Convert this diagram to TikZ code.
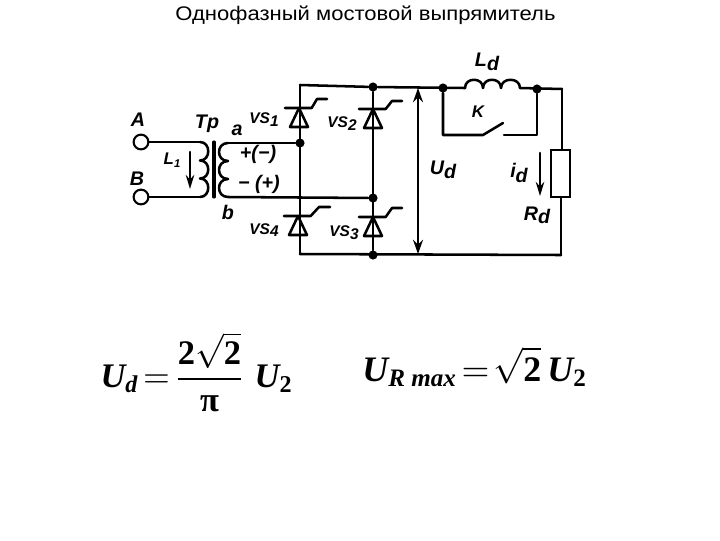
\documentclass[tikz,border=0pt]{standalone}
\usepackage{fontspec}
\setmainfont{Liberation Sans}
\newfontfamily\formfont{Liberation Serif}
\newcommand{\formU}{\mbox{\formfont\bfseries\itshape U}}
\newcommand{\formPi}{\mbox{\formfont\bfseries π}}
\newcommand{\formD}[1]{\mbox{\formfont\bfseries #1}}
\newcommand{\formS}[1]{\mbox{\scriptsize\formfont\bfseries #1}}
\newcommand{\formI}[1]{\mbox{\scriptsize\formfont\bfseries\itshape #1}}
\usetikzlibrary{arrows.meta}
\tikzset{
	wire/.style={line width=1.8pt, line cap=round, line join=round},
	dot/.style={circle, fill, inner sep=0pt, minimum size=6.5pt},
	term/.style={circle, draw, line width=1.5pt, fill=white, inner sep=0pt, minimum size=10.5pt},
	lab/.style={font=\bfseries\itshape\fontsize{11}{12}\selectfont, inner sep=0pt},
	sublab/.style={font=\bfseries\itshape\fontsize{14}{15}\selectfont, inner sep=0pt},
	volt/.style={wire, {Stealth[length=10pt,width=7pt]}-{Stealth[length=10pt,width=7pt]}},
	cur/.style={wire, -{Stealth[length=10pt,width=6pt]}}
}
\begin{document}
\begin{tikzpicture}[x=0.025cm, y=-0.025cm]
	\useasboundingbox (0,0) rectangle (720,540);
	\node[font=\fontsize{14}{16}\selectfont, xscale=1.12] (title) at (365.5,15) {Однофазный мостовой выпрямитель};

	% terminals and transformer
	\node[term] (A) at (141,142) {};
	\node[term] (B) at (141,197) {};
	\coordinate (p1) at (200,142);
	\coordinate (p2) at (200,160.5);
	\coordinate (p3) at (200,178.5);
	\coordinate (p4) at (200,197);
	\coordinate (s1) at (228,143);
	\coordinate (s2) at (228,161);
	\coordinate (s3) at (228,179);
	\coordinate (s4) at (228,197);
	\coordinate (coreT) at (214,142);
	\coordinate (coreB) at (214,197);
	\draw[wire] (A) -- (p1);
	\draw[wire] (B) -- (p4);
	\draw[wire] (p1) .. controls +(11,0) and +(11,0) .. (p2);
	\draw[wire] (p2) .. controls +(11,0) and +(11,0) .. (p3);
	\draw[wire] (p3) .. controls +(11,0) and +(11,0) .. (p4);
	\draw[wire] (s1) .. controls +(-12,0) and +(-12,0) .. (s2);
	\draw[wire] (s2) .. controls +(-12,0) and +(-12,0) .. (s3);
	\draw[wire] (s3) .. controls +(-12,0) and +(-12,0) .. (s4);
	\draw[wire, line width=2.2pt] (coreT) -- (coreB);

	% bridge
	\coordinate (TL) at (300,85);
	\coordinate (BL) at (300,254);
	\node[dot] (a) at (300,143) {};
	\node[dot] (b) at (373,198) {};
	\node[dot] (T2) at (373,87) {};
	\node[dot] (B2) at (373,255) {};
	\coordinate (BR) at (561,255);
	\draw[wire] (s1) -- (a);
	\draw[wire] (s4) -- (b);
	\draw[wire] (TL) -- (BL);
	\draw[wire] (T2) -- (B2);
	\draw[wire] (TL) -- (T2);
	\draw[wire] (BL) -- (BR);

	% thyristors
	\foreach \n/\x/\y/\gx/\gy/\ex in {VSa/299/108/317/99/327, VSb/373/109/392/101/402, VSc/298/216/319/207/330, VSd/373/217/392/208/402}{
		\coordinate (\n) at (\x,\y);
		\coordinate (\n g) at (\gx,\gy);
		\coordinate (\n e) at (\ex,\gy);
		\draw[wire] (\n) -- ++(-9,19) -- ++(18,0) -- cycle;
		\draw[wire] ([xshift=-10]\n) -- ([xshift=9]\n) -- (\n g) -- (\n e);
	}

	% load side
	\node[dot] (K1) at (443,88) {};
	\node[dot] (K2) at (537,89) {};
	\coordinate (c1) at (465,88);
	\coordinate (c2) at (483,88);
	\coordinate (c3) at (501,88);
	\coordinate (c4) at (520,88);
	\coordinate (TR) at (562,89);
	\coordinate (kL) at (443,135);
	\coordinate (kA) at (483,135);
	\coordinate (kB) at (503,123);
	\coordinate (kC) at (504,135);
	\coordinate (kR) at (537,135);
	\draw[wire] (T2) -- (c1);
	\draw[wire] (c1) .. controls +(0,-11) and +(0,-11) .. (c2);
	\draw[wire] (c2) .. controls +(0,-11) and +(0,-11) .. (c3);
	\draw[wire] (c3) .. controls +(0,-11) and +(0,-11) .. (c4);
	\draw[wire] (c4) -- (TR);
	\draw[wire] (K1) -- (kL) -- (kA) -- (kB);
	\draw[wire] (kC) -- (kR) -- (K2);

	% resistor
	\node[draw, line width=1.5pt, minimum width=0.47cm, minimum height=1.17cm, inner sep=0pt] (Rd) at (560.5,173.5) {};
	\draw[wire] (TR) -- (Rd.north -| TR);
	\draw[wire] (Rd.south -| BR) -- (BR);

	% arrows
	\coordinate (Ua) at (418,88);
	\coordinate (Ub) at (418,254);
	\draw[volt] (Ua) -- (Ub);
	\coordinate (La) at (190,152);
	\coordinate (Lb) at (190,189);
	\draw[cur] (La) -- (Lb);
	\coordinate (ia) at (540,153);
	\coordinate (ib) at (540,196);
	\draw[cur] (ia) -- (ib);

	% labels
	\node[sublab] (lA) at (138,120) {A};
	\node[sublab] (lB) at (137,179) {B};
	\node[sublab] (lT) at (207,124) {Tp};
	\node[sublab] (la) at (237,130) {a};
	\node[sublab] (lb) at (228,212) {b};
	\node[lab, font=\bfseries\itshape\fontsize{12}{13}\selectfont] (lL) at (172,160) {L\raisebox{-2pt}{\footnotesize 1}};
	\node[sublab] (pm) at (258,154) {+(−)};
	\node[sublab] (mp) at (259,184) {− (+)};
	\node[lab] (l1) at (264,120) {VS\raisebox{-2pt}{1}};
	\node[lab] (l2) at (342,124) {VS\raisebox{-2pt}{2}};
	\node[lab] (l4) at (264,230) {VS\raisebox{-2pt}{4}};
	\node[lab] (l3) at (344,233) {VS\raisebox{-2pt}{3}};
	\node[sublab] (lL2) at (487,62) {L\raisebox{-3pt}{d}};
	\node[lab, font=\bfseries\itshape\fontsize{12}{13}\selectfont] (lK) at (478,112) {K};
	\node[sublab] (lU) at (443,170) {U\raisebox{-3pt}{d}};
	\node[sublab] (li) at (519,173) {i\raisebox{-3pt}{d}};
	\node[sublab] (lR) at (537,215) {R\raisebox{-2pt}{d}};

	% formulas
	\node[scale=2.45, inner sep=0pt] (f1) at (197,372) {$\displaystyle \formU_{\formI{d}}\!=\!\frac{\formD{2}\sqrt{\formD{2}}}{\formPi}\;\formU_{\formS{2}}$};
	\node[scale=2.55, inner sep=0pt] (f2) at (475,367) {$\displaystyle \formU_{\formI{R max}}\!=\!\sqrt{\formD{2}}\,\formU_{\formS{2}}$};
\end{tikzpicture}
\end{document}
